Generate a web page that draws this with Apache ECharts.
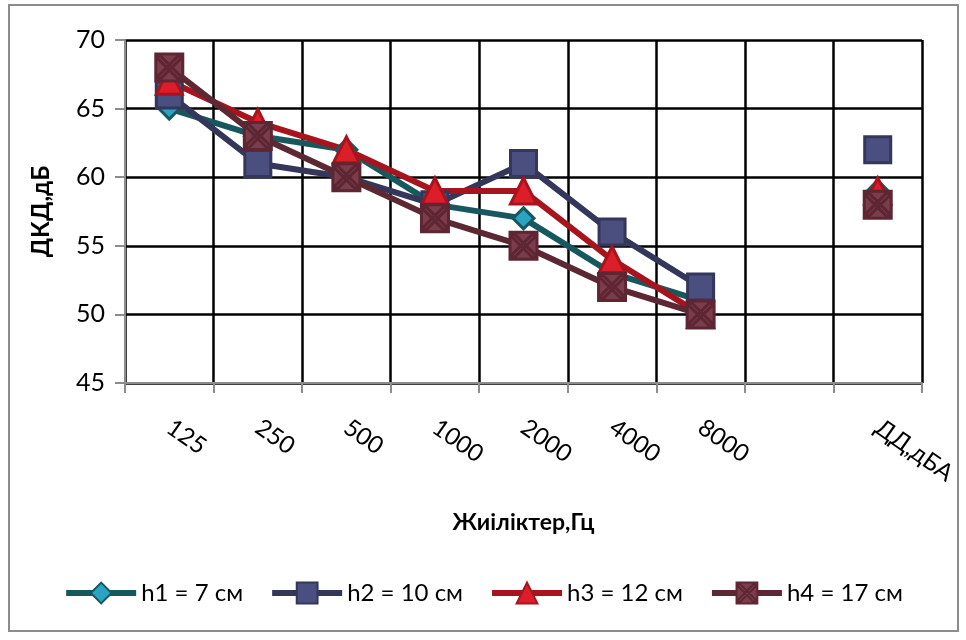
<!DOCTYPE html>
<html><head><meta charset="utf-8">
<script src="https://cdn.jsdelivr.net/npm/echarts@6/dist/echarts.min.js"></script>
<style>html,body{margin:0;padding:0;background:#fff}#c{width:966px;height:640px}</style>
</head><body><div id="c"></div>
<script>
const categories = ['125','250','500','1000','2000','4000','8000','','ДД,дБА'];
const h1 = [65, 63, 62, 58, 57, 53, 51, null, 59];
const h2 = [66, 61, 60, 58, 61, 56, 52, null, 62];
const h3 = [67, 64, 62, 59, 59, 54, 50, null, 59];
const h4 = [68, 63, 60, 57, 55, 52, 50, null, 58];
const seriesNames = ['h1 = 7 см','h2 = 10 см','h3 = 12 см','h4 = 17 см'];
const yTicks = {min: 45, max: 70, interval: 5};

const FONT = "'Lato', sans-serif";
const xSym = 'path://M0,0 L20,0 L20,20 L0,20 Z M1,3 L3,1 L19,17 L17,19 Z M17,1 L19,3 L3,19 L1,17 Z';

const chart = echarts.init(document.getElementById('c'));
function mk(name, data, lineColor, fill, border, symbol, size) {
  return {
    name, type: 'line', data, symbol, symbolSize: size, connectNulls: false,
    showAllSymbol: true,
    lineStyle: {color: lineColor, width: 6},
    itemStyle: {color: fill, borderColor: border, borderWidth: 3},
    emphasis: {disabled: true}
  };
}
chart.setOption({
  animation: false,
  graphic: [{type: 'rect', shape: {x: 9, y: 5, width: 949, height: 626},
    style: {fill: 'none', stroke: '#8c8c8c', lineWidth: 2}, z: -1}],
  grid: {left: 125, right: 44, top: 40, bottom: 257},
  xAxis: {
    type: 'category', data: categories, boundaryGap: true,
    name: 'Жиіліктер,Гц', nameLocation: 'middle', nameGap: 128,
    nameTextStyle: {fontFamily: FONT, fontSize: 23, fontWeight: 'bold', color: '#000'},
    axisLine: {lineStyle: {color: '#8c8c8c', width: 2}},
    axisTick: {show: true, length: 10, lineStyle: {color: '#8c8c8c', width: 2}, alignWithLabel: false},
    splitLine: {show: true, interval: 0, lineStyle: {color: '#000', width: 2.5}},
    axisLabel: {interval: 0, rotate: -35, margin: 42, fontFamily: FONT, fontSize: 24, color: '#000'}
  },
  yAxis: {
    type: 'value', min: yTicks.min, max: yTicks.max, interval: yTicks.interval,
    name: 'ДКД,дБ', nameLocation: 'middle', nameGap: 72,
    nameTextStyle: {fontFamily: FONT, fontSize: 24, fontWeight: 'bold', color: '#000'},
    axisLine: {show: true, lineStyle: {color: '#8c8c8c', width: 2}},
    axisTick: {show: true, length: 10, lineStyle: {color: '#8c8c8c', width: 2}},
    splitLine: {show: true, lineStyle: {color: '#000', width: 2.5}},
    axisLabel: {margin: 20, fontFamily: FONT, fontSize: 25, color: '#000'}
  },
  legend: {
    bottom: 30, left: 'center', itemWidth: 70, itemHeight: 26, itemGap: 26,
    textStyle: {fontFamily: FONT, fontSize: 24, color: '#000'},
    lineStyle: {width: 6},
    data: seriesNames
  },
  series: [
    mk(seriesNames[0], h1, '#17585f', '#2aa4c2', '#17585f', 'diamond', 21),
    mk(seriesNames[1], h2, '#34365a', '#4a4f80', '#34365a', 'rect', 26),
    mk(seriesNames[2], h3, '#a8141e', '#dc1e2a', '#a8141e', 'triangle', 26),
    mk(seriesNames[3], h4, '#5c2833', '#7b3c4b', '#5e2632', xSym, 27)
  ]
});
</script></body></html>
